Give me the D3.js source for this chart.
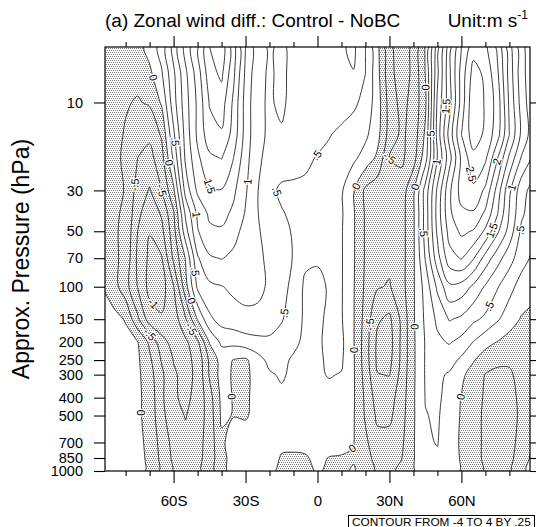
<!DOCTYPE html>
<html>
<head>
<meta charset="utf-8">
<script src="https://cdn.jsdelivr.net/npm/d3@7"></script>
<style>
  body { margin: 0; background: #fff; }
  svg { display: block; }
</style>
</head>
<body>
<svg id="chart" width="536" height="527"></svg>
<script>
// zonal wind difference (m/s), one row per pressure level, columns = latitudes
const lats = [-90, -85, -80, -75, -70, -65, -60, -55, -50, -45, -40, -35, -30, -25, -20, -15, -10, -5,
  0, 5, 10, 15, 20, 25, 30, 35, 40, 45, 50, 55, 60, 65, 70, 75, 80, 85, 90];
const levels = [5, 7, 10, 15, 20, 30, 40, 50, 70, 100, 150, 200, 250, 300, 400, 500, 700, 850, 1000];

const u5 = [-0.12, -0.15, -0.15, -0.1, 0.1, 0.35, 0.85, 1.35, 1.72, 2.25, 2.4, 1.85, 1.25, 0.85,
  0.72, 0.8, 0.68, 0.55, 0.58, 0.62, 0.72, 0.8,
  0.5, 0.06, -0.45, -0.62, -0.45, 0.02, 0.9, 1.65, 2.25, 2.65, 2.55, 2.2, 1.6, 1.1, 0.75];
const u7 = [-0.15, -0.2, -0.2, -0.18, -0.06, 0.22, 0.7, 1.2, 1.62, 2.15, 2.3, 1.8, 1.2, 0.82,
  0.72, 0.8, 0.68, 0.55, 0.58, 0.62, 0.7, 0.74,
  0.5, 0.08, -0.42, -0.62, -0.45, 0.01, 0.95, 1.7, 2.35, 2.85, 2.7, 2.3, 1.65, 1.1, 0.8];
const u10 = [-0.15, -0.2, -0.23, -0.27, -0.22, 0.03, 0.65, 1.15, 1.55, 2.02, 2.12, 1.7, 1.15, 0.8,
  0.72, 0.8, 0.66, 0.55, 0.55, 0.58, 0.6, 0.55,
  0.42, 0.12, -0.35, -0.58, -0.42, -0.05, 1.05, 1.65, 2.35, 2.95, 2.72, 2.4, 1.7, 1.15, 0.8];
const u15 = [-0.12, -0.18, -0.27, -0.4, -0.45, -0.22, 0.45, 1.1, 1.55, 1.9, 1.97, 1.65, 1.15, 0.8,
  0.72, 0.72, 0.62, 0.55, 0.55, 0.51, 0.45, 0.38,
  0.3, 0.08, -0.35, -0.55, -0.4, 0.05, 1.1, 1.85, 2.5, 2.88, 2.7, 2.35, 1.75, 1.2, 0.85];
const u20 = [-0.1, -0.18, -0.3, -0.5, -0.58, -0.35, 0.3, 1.05, 1.45, 1.7, 1.76, 1.5, 1.1, 0.78,
  0.7, 0.65, 0.58, 0.53, 0.49, 0.45, 0.38, 0.3,
  0.15, -0.05, -0.5, -0.55, -0.35, 0.15, 1.01, 1.65, 2.3, 2.68, 2.55, 2.02, 1.45, 0.98, 0.7];
const u30 = [-0.12, -0.2, -0.26, -0.6, -0.77, -0.5, -0.05, 0.85, 1.3, 1.47, 1.49, 1.3, 1.03, 0.76,
  0.57, 0.45, 0.46, 0.47, 0.48, 0.4, 0.28, 0.02,
  -0.3, -0.4, -0.45, -0.38, -0.05, 0.6, 1.3, 1.95, 2.35, 2.45, 2.2, 1.65, 1.05, 0.6, 0.4];
const u40 = [-0.12, -0.22, -0.28, -0.68, -0.92, -0.72, -0.28, 0.55, 1.05, 1.3, 1.33, 1.2, 0.98, 0.76,
  0.6, 0.52, 0.45, 0.42, 0.4, 0.36, 0.28, 0.03,
  -0.28, -0.38, -0.43, -0.35, -0.04, 0.6, 1.35, 1.95, 2.2, 2.22, 1.95, 1.52, 0.98, 0.55, 0.35];
const u50 = [-0.12, -0.22, -0.3, -0.75, -0.99, -0.82, -0.35, 0.4, 0.98, 1.2, 1.22, 1.08, 0.92, 0.77,
  0.68, 0.56, 0.48, 0.4, 0.36, 0.33, 0.27, 0.03,
  -0.28, -0.4, -0.44, -0.35, -0.04, 0.6, 1.3, 1.85, 2.05, 1.98, 1.7, 1.3, 0.9, 0.45, 0.28];
const u70 = [-0.1, -0.2, -0.32, -0.8, -1.05, -1.02, -0.45, 0.02, 0.72, 0.97, 1.01, 0.95, 0.88, 0.78,
  0.72, 0.58, 0.49, 0.3, 0.28, 0.3, 0.27, 0.03,
  -0.28, -0.4, -0.45, -0.35, -0.04, 0.52, 1.15, 1.65, 1.77, 1.52, 1.15, 0.85, 0.6, 0.35, 0.2];
const u100 = [0.01, -0.15, -0.4, -0.76, -1.08, -1.12, -0.76, -0.1, 0.55, 0.7, 0.74, 0.8, 0.82, 0.8,
  0.72, 0.6, 0.42, 0.2, 0.18, 0.28, 0.27, 0.02,
  -0.3, -0.48, -0.52, -0.35, -0.03, 0.35, 0.8, 1.2, 1.15, 0.95, 0.72, 0.52, 0.33, 0.15, 0.05];
const u150 = [0.15, 0.08, -0.02, -0.45, -0.88, -0.97, -0.9, -0.52, 0.02, 0.45, 0.6, 0.65, 0.7, 0.7,
  0.62, 0.52, 0.38, 0.2, 0.2, 0.3, 0.27, 0.02,
  -0.35, -0.72, -0.8, -0.45, -0.03, 0.3, 0.55, 0.77, 0.7, 0.55, 0.45, 0.28, 0.12, -0.02, -0.05];
const u200 = [0.12, 0.12, 0.08, 0.01, -0.3, -0.65, -0.85, -0.8, -0.55, 0.02, 0.3, 0.32, 0.38, 0.42,
  0.45, 0.4, 0.3, 0.2, 0.22, 0.3, 0.3, 0.02,
  -0.38, -0.8, -0.85, -0.45, -0.04, 0.27, 0.45, 0.52, 0.42, 0.24, 0.08, -0.01, -0.1, -0.12, -0.12];
const u250 = [0.1, 0.12, 0.1, 0.04, -0.2, -0.52, -0.76, -0.82, -0.68, -0.2, 0.1, -0.01, -0.04, 0.15,
  0.32, 0.3, 0.22, 0.2, 0.22, 0.28, 0.28, 0.03,
  -0.38, -0.8, -0.82, -0.45, -0.04, 0.27, 0.35, 0.35, 0.2, 0.02, -0.12, -0.2, -0.22, -0.2, -0.18];
const u300 = [0.08, 0.1, 0.1, 0.05, -0.15, -0.45, -0.72, -0.82, -0.7, -0.22, 0.1, -0.03, -0.07, 0.12,
  0.22, 0.28, 0.2, 0.18, 0.23, 0.26, 0.24, 0.03,
  -0.35, -0.74, -0.76, -0.42, -0.04, 0.27, 0.3, 0.22, 0.05, -0.1, -0.26, -0.3, -0.28, -0.18, -0.15];
const u400 = [0.06, 0.08, 0.1, 0.05, -0.1, -0.45, -0.72, -0.8, -0.68, -0.35, 0.06, -0.01, -0.06, 0.12,
  0.15, 0.2, 0.22, 0.18, 0.22, 0.2, 0.2, 0.03,
  -0.3, -0.62, -0.6, -0.38, -0.03, 0.26, 0.3, 0.15, -0.01, -0.15, -0.28, -0.35, -0.32, -0.2, -0.1];
const u500 = [0.05, 0.07, 0.08, 0.05, -0.1, -0.42, -0.68, -0.76, -0.65, -0.38, 0.04, -0.01, -0.04, 0.12,
  0.12, 0.15, 0.18, 0.15, 0.18, 0.15, 0.15, 0.02,
  -0.28, -0.55, -0.55, -0.35, -0.03, 0.24, 0.28, 0.12, -0.02, -0.15, -0.3, -0.38, -0.35, -0.2, -0.08];
const u700 = [0.04, 0.05, 0.06, 0.06, -0.06, -0.35, -0.58, -0.7, -0.6, -0.38, -0.05, 0.12, 0.2, 0.2,
  0.15, 0.05, 0.05, 0.06, 0.1, 0.1, 0.08, 0.01,
  -0.2, -0.42, -0.42, -0.3, -0.02, 0.22, 0.26, 0.1, -0.03, -0.15, -0.3, -0.38, -0.35, -0.15, 0.01];
const u850 = [0.03, 0.04, 0.05, 0.06, -0.04, -0.32, -0.55, -0.65, -0.58, -0.38, -0.08, 0.1, 0.18, 0.2,
  0.1, -0.02, -0.03, -0.02, 0.05, -0.01, -0.02, -0.02,
  -0.15, -0.35, -0.35, -0.26, -0.02, 0.2, 0.22, 0.1, -0.02, -0.15, -0.3, -0.35, -0.33, -0.1, 0.05];
const u1000 = [0.02, 0.03, 0.04, 0.06, -0.03, -0.3, -0.52, -0.62, -0.56, -0.36, -0.08, 0.1, 0.15, 0.18,
  0.05, -0.05, -0.05, -0.05, 0.02, -0.03, -0.04, 0.02,
  -0.1, -0.3, -0.3, -0.2, -0.02, 0.15, 0.2, 0.08, -0.01, -0.12, -0.28, -0.32, -0.3, -0.05, 0.08];

// contour labels: [value, lat, pressure]
const contourLabels = [
  [0, -68.9, 7.35], [0.5, -58.5, 16.3], [0, -61.4, 21.2], [-0.5, -76, 28], [-0.5, -64.3, 29.8],
  [1.5, -45.5, 28.7], [1, -28.9, 26.9], [1, -51.8, 40.8], [0.5, -51.8, 83], [0, -53, 120],
  [-1, -67.6, 120], [-0.5, -71.8, 189], [-0.5, -55, 176], [0.5, -18.5, 30.9], [0.5, -15.5, 138],
  [0, -71.8, 483], [0, -35.1, 395], [0.5, 3.2, 21], [0, 43.6, 8.3], [1.5, 54, 10.5],
  [0.5, 47, 15], [1, 49.9, 21], [-0.5, 28.2, 21], [2.5, 62.4, 24.7], [2, 75.3, 21],
  [1, 80.3, 28.7], [0.5, 83.2, 49], [1.5, 72, 49], [0.5, 72.8, 130], [0, 16.6, 28.7],
  [0, 40.7, 28.7], [0.5, 46.2, 50.5], [-0.5, 24, 161], [0, 40.7, 165], [0, 18.6, 220],
  [0, 59.5, 395], [0, 14.5, 752]
];

const latTicks = [-60, -30, 0, 30, 60];
const latTickLabels = ["60S", "30S", "0", "30N", "60N"];
const latMinor = [-80, -70, -50, -40, -20, -10, 10, 20, 40, 50, 70, 80];
const presTicks = [10, 30, 50, 70, 100, 150, 200, 250, 300, 400, 500, 700, 850, 1000];

const FONT = "'Liberation Sans', Arial, Helvetica, sans-serif";
const svg = d3.select("#chart").attr("font-family", FONT);
const plot = { x0: 105, x1: 530, y0: 47, y1: 471 };

const x = d3.scaleLinear().domain([-88.6, 88.6]).range([plot.x0, plot.x1]);
const y = d3.scaleLog().domain([5, 1000]).range([plot.y0, plot.y1]);

// grid index -> pixel (d3.contours puts value i at i + 0.5)
const gx = d3.scaleLinear().domain(lats.map((d, i) => i + 0.5)).range(lats.map(x));
const gy = d3.scaleLinear().domain(levels.map((d, i) => i + 0.5)).range(levels.map(y));

const grid = [u5, u7, u10, u15, u20, u30, u40, u50, u70, u100, u150, u200, u250, u300,
  u400, u500, u700, u850, u1000];
const values = grid.flat();
const thresholds = d3.range(-16, 17).map(k => k / 4);
const contours = d3.contours().size([lats.length, levels.length]).thresholds(thresholds)(values);

const defs = svg.append("defs");
defs.append("clipPath").attr("id", "plotClip")
  .append("rect")
  .attr("x", plot.x0).attr("y", plot.y0)
  .attr("width", plot.x1 - plot.x0).attr("height", plot.y1 - plot.y0);

const pat = defs.append("pattern")
  .attr("id", "stipple")
  .attr("patternUnits", "userSpaceOnUse")
  .attr("width", 4).attr("height", 4);
pat.append("rect").attr("width", 4).attr("height", 4).attr("fill", "#fff");
[[0, 0], [2, 0], [1, 2], [3, 2]].forEach(([a, b]) => {
  pat.append("rect").attr("x", a).attr("y", b).attr("width", 1).attr("height", 1).attr("fill", "#7a7a7a");
});

const lineGen = d3.line().curve(d3.curveCatmullRomClosed.alpha(0.5));
const project = ring => ring.map(([a, b]) => [gx(a), gy(b)]);
const ringPath = ring => lineGen(project(ring.slice(0, -1)));
const multiPath = c => c.coordinates.flatMap(poly => poly.map(ringPath)).join("");

const g = svg.append("g").attr("clip-path", "url(#plotClip)");

// negative values stippled: stipple everywhere, then white over >= 0
g.append("rect")
  .attr("x", plot.x0).attr("y", plot.y0)
  .attr("width", plot.x1 - plot.x0).attr("height", plot.y1 - plot.y0)
  .attr("fill", "url(#stipple)");

const zeroC = contours.find(c => c.value === 0);
g.append("path")
  .attr("d", multiPath(zeroC))
  .attr("fill", "#fff")
  .attr("fill-rule", "evenodd");

g.selectAll("path.iso")
  .data(contours.filter(c => c.coordinates.length))
  .join("path")
  .attr("class", "iso")
  .attr("d", multiPath)
  .attr("fill", "none")
  .attr("stroke", "#1a1a1a")
  .attr("stroke-width", 0.85);

// labels snapped onto the nearest piece of their own contour
const inside = (p) => p[0] >= plot.x0 && p[0] <= plot.x1 && p[1] >= plot.y0 && p[1] <= plot.y1;
function nearestOn(c, px, py) {
  let best = null;
  c.coordinates.forEach(poly => poly.forEach(ring => {
    const pts = project(ring);
    for (let k = 0; k < pts.length - 1; k++) {
      const a = pts[k], b = pts[k + 1];
      if (!inside(a) && !inside(b)) continue;
      const dx = b[0] - a[0], dy = b[1] - a[1];
      const L = dx * dx + dy * dy;
      let t = L ? ((px - a[0]) * dx + (py - a[1]) * dy) / L : 0;
      t = Math.max(0, Math.min(1, t));
      const qx = a[0] + t * dx, qy = a[1] + t * dy;
      const d = Math.hypot(px - qx, py - qy);
      if (!best || d < best.d) best = { d, x: qx, y: qy, angle: Math.atan2(dy, dx) * 180 / Math.PI };
    }
  }));
  return best;
}
const fmt = v => {
  if (v === 0) return "0";
  const s = String(Math.abs(v)).replace(/^0\./, ".");
  return (v < 0 ? "-" : "") + s;
};

const labelData = contourLabels.map(([v, lat, p]) => {
  const px = x(lat), py = y(p);
  const c = contours.find(cc => Math.abs(cc.value - v) < 1e-9);
  const n = c ? nearestOn(c, px, py) : null;
  const ok = n && n.d < 18;
  let ang = ok ? n.angle : 0;
  if (ang > 90) ang -= 180;
  if (ang < -90) ang += 180;
  return { text: fmt(v), x: ok ? n.x : px, y: ok ? n.y : py, ang };
});

g.selectAll("text.clab")
  .data(labelData)
  .join("text")
  .attr("class", "clab")
  .attr("transform", d => `translate(${d.x},${d.y}) rotate(${d.ang})`)
  .attr("text-anchor", "middle")
  .attr("dy", "0.35em")
  .attr("font-size", 11)
  .attr("fill", "#000")
  .attr("stroke", "#fff")
  .attr("stroke-width", 2.5)
  .attr("paint-order", "stroke")
  .text(d => d.text);

// frame
svg.append("rect")
  .attr("x", plot.x0).attr("y", plot.y0)
  .attr("width", plot.x1 - plot.x0).attr("height", plot.y1 - plot.y0)
  .attr("fill", "none").attr("stroke", "#000").attr("stroke-width", 1.2);

function styleAxis(sel, size) {
  sel.attr("font-family", FONT).attr("font-size", size);
  sel.select(".domain").remove();
  sel.selectAll("line").attr("stroke", "#000").attr("stroke-width", 1.1);
  sel.selectAll("text").attr("fill", "#000");
}

svg.append("g").attr("transform", `translate(0,${plot.y1})`)
  .call(d3.axisBottom(x).tickValues(latTicks).tickSize(12).tickPadding(12)
    .tickFormat((d, i) => latTickLabels[i]))
  .call(s => styleAxis(s, 15));
svg.append("g").attr("transform", `translate(0,${plot.y1})`)
  .call(d3.axisBottom(x).tickValues(latMinor).tickSize(5).tickFormat(""))
  .call(s => styleAxis(s, 15));
svg.append("g").attr("transform", `translate(0,${plot.y0})`)
  .call(d3.axisTop(x).tickValues(latTicks).tickSize(11).tickFormat(""))
  .call(s => styleAxis(s, 15));
svg.append("g").attr("transform", `translate(0,${plot.y0})`)
  .call(d3.axisTop(x).tickValues(latMinor).tickSize(5).tickFormat(""))
  .call(s => styleAxis(s, 15));
svg.append("g").attr("transform", `translate(${plot.x0},0)`)
  .call(d3.axisLeft(y).tickValues(presTicks).tickSize(11).tickPadding(11).tickFormat(d => d))
  .call(s => styleAxis(s, 14.5));
svg.append("g").attr("transform", `translate(${plot.x1},0)`)
  .call(d3.axisRight(y).tickValues(presTicks).tickSize(11).tickFormat(""))
  .call(s => styleAxis(s, 15));

// titles
svg.append("text")
  .attr("x", 105).attr("y", 27)
  .attr("font-size", 19)
  .text("(a) Zonal wind diff.: Control - NoBC");

const unit = svg.append("text")
  .attr("x", 528).attr("y", 27)
  .attr("text-anchor", "end")
  .attr("font-size", 19);
unit.append("tspan").text("Unit:m s");
unit.append("tspan").attr("dy", -8).attr("font-size", 12).text("-1");

svg.append("text")
  .attr("transform", `translate(29,${(plot.y0 + plot.y1) / 2}) rotate(-90)`)
  .attr("text-anchor", "middle")
  .attr("font-size", 23)
  .text("Approx. Pressure (hPa)");

svg.append("rect")
  .attr("x", 348.5).attr("y", 515.5)
  .attr("width", 186).attr("height", 14)
  .attr("fill", "#fff").attr("stroke", "#000").attr("stroke-width", 1);
svg.append("text")
  .attr("x", 352).attr("y", 525.5)
  .attr("font-size", 11.8)
  .text("CONTOUR FROM -4 TO 4 BY .25");
</script>
</body>
</html>
